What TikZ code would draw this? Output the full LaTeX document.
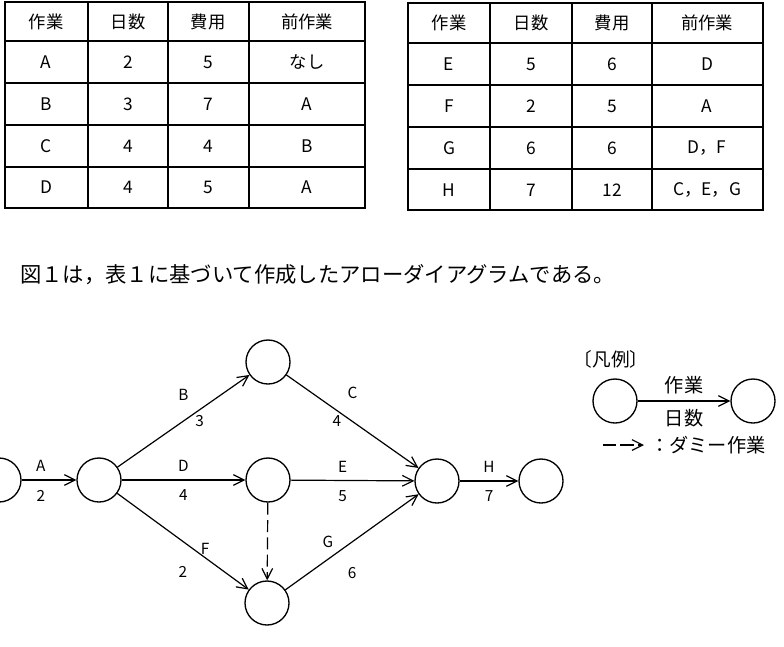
\documentclass[tikz,border=0pt]{standalone}
\usepackage{fontspec}
\setmainfont{Noto Sans CJK JP}
\usetikzlibrary{arrows.meta}

\begin{document}
\begin{tikzpicture}[x=0.75pt, y=-0.75pt,
    ev/.style={circle, draw, line width=1pt, minimum size=33pt, inner sep=0pt},
    act/.style={line width=0.9pt, -{Straight Barb[length=8pt, width=8pt]}},
    lab/.style={font=\fontsize{11.5}{11.5}\selectfont, inner sep=0pt},
    cell/.style={font=\fontsize{13}{13}\selectfont},
    lgtext/.style={font=\fontsize{14.4}{14.4}\selectfont, inner sep=0pt},
    rule/.style={line width=1.3pt}]
    \useasboundingbox (0,0) rectangle (784,646);

    %Table, left
    \draw[rule] (5,2) rectangle (365,208);
    \draw[rule] (88,2) -- (88,208) (168,2) -- (168,208) (249,2) -- (249,208);
    \draw[rule] (5,41) -- (365,41) (5,83) -- (365,83) (5,125) -- (365,125) (5,167) -- (365,167);
    \node[cell] (la0) at (46,21.5) {作業}; \node[cell] (lb0) at (128,21.5) {日数}; \node[cell] (lc0) at (208,21.5) {費用}; \node[cell] (ld0) at (307,21.5) {前作業};
    \node[cell] (la1) at (46,62) {A}; \node[cell] (lb1) at (128,62) {2}; \node[cell] (lc1) at (208,62) {5}; \node[cell] (ld1) at (307,62) {なし};
    \node[cell] (la2) at (46,104) {B}; \node[cell] (lb2) at (128,104) {3}; \node[cell] (lc2) at (208,104) {7}; \node[cell] (ld2) at (307,104) {A};
    \node[cell] (la3) at (46,146) {C}; \node[cell] (lb3) at (128,146) {4}; \node[cell] (lc3) at (208,146) {4}; \node[cell] (ld3) at (307,146) {B};
    \node[cell] (la4) at (46,187.5) {D}; \node[cell] (lb4) at (128,187.5) {4}; \node[cell] (lc4) at (208,187.5) {5}; \node[cell] (ld4) at (307,187.5) {A};

    %Table, right
    \draw[rule] (408,3) rectangle (763,210);
    \draw[rule] (490,3) -- (490,210) (572,3) -- (572,210) (652,3) -- (652,210);
    \draw[rule] (408,43) -- (763,43) (408,85) -- (763,85) (408,127) -- (763,127) (408,169) -- (763,169);
    \node[cell] (ra0) at (449,23) {作業}; \node[cell] (rb0) at (531,23) {日数}; \node[cell] (rc0) at (612,23) {費用}; \node[cell] (rd0) at (707,23) {前作業};
    \node[cell] (ra1) at (449,64) {E}; \node[cell] (rb1) at (531,64) {5}; \node[cell] (rc1) at (612,64) {6}; \node[cell] (rd1) at (707,64) {D};
    \node[cell] (ra2) at (449,106) {F}; \node[cell] (rb2) at (531,106) {2}; \node[cell] (rc2) at (612,106) {5}; \node[cell] (rd2) at (707,106) {A};
    \node[cell] (ra3) at (449,148) {G}; \node[cell] (rb3) at (531,148) {6}; \node[cell] (rc3) at (612,148) {6}; \node[cell] (rd3) at (707,148) {D，F};
    \node[cell] (ra4) at (449,190) {H}; \node[cell] (rb4) at (531,190) {7}; \node[cell] (rc4) at (612,190) {12}; \node[cell] (rd4) at (707,190) {C，E，G};

    %Sentence
    \node[font=\fontsize{16}{16}\selectfont, anchor=west, inner sep=0pt] (intro) at (20,275) {図１は，表１に基づいて作成したアローダイアグラムである。};

    %Nodes
    \node[ev] (n1) at (-1,480) {};
    \node[ev] (n2) at (99,480) {};
    \node[ev] (n3) at (268,362) {};
    \node[ev] (n4) at (268,480) {};
    \node[ev] (n5) at (267,603) {};
    \node[ev] (n6) at (437,481) {};
    \node[ev] (n7) at (541,481) {};

    %Lines
    \draw[act] (n1) -- (n2) node[lab, above=5.6pt, pos=0.35] {A} node[lab, below=7pt, pos=0.35] {2};
    \draw[act] (n2) -- (n3) node[lab, above=15.3pt, midway] {B} node[lab, right=8.5pt, midway] {3};
    \draw[act] (n2) -- (n4) node[lab, above=5.6pt, midway] {D} node[lab, below=7pt, midway] {4};
    \draw[act] (n2) -- (n5) node[lab, right=5pt, pos=0.58] {F} node[lab, below=18pt, midway] {2};
    \draw[act] (n3) -- (n6) node[lab, above=16.6pt, midway] {C} node[lab, left=8pt, midway] {4};
    \draw[act] (n4) -- (n6) node[lab, above=5.6pt, pos=0.42] {E} node[lab, below=7pt, pos=0.42] {5};
    \draw[act] (n5) -- (n6) node[lab, left=13.6pt, midway] {G} node[lab, below=18.4pt, midway] {6};
    \draw[act] (n6) -- (n7) node[lab, above=5.6pt, midway] {H} node[lab, below=7pt, midway] {7};
    \draw[act, dash pattern=on 9pt off 4pt] (n4) -- (n5);

    %Legend
    \node[font=\fontsize{14}{14}\selectfont] (lgtitle) at (611,359) {〔凡例〕};
    \node[ev] (lg1) at (615,401) {};
    \node[ev] (lg2) at (753,401) {};
    \draw[act] (lg1) -- (lg2) node[lgtext, above=5pt, midway] {作業} node[lgtext, below=6pt, midway] {日数};
    \coordinate (dm1) at (603,445);
    \coordinate (dm2) at (644,445);
    \draw[act, dash pattern=on 10pt off 3pt] (dm1) -- (dm2);
    \node[lgtext, anchor=west] (dmtext) at (650,445) {：ダミー作業};
\end{tikzpicture}
\end{document}
